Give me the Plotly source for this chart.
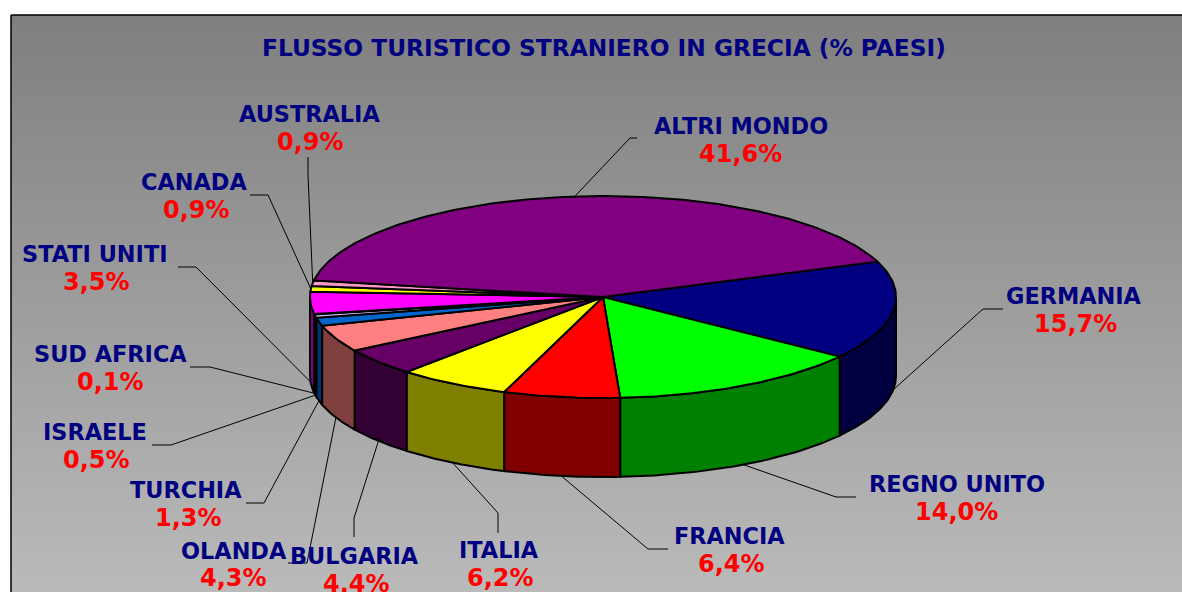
import numpy as np
import plotly.graph_objects as go

TITLE = "FLUSSO TURISTICO STRANIERO IN GRECIA (% PAESI)"
countries = ["GERMANIA", "REGNO UNITO", "FRANCIA", "ITALIA", "BULGARIA", "OLANDA", "TURCHIA",
             "ISRAELE", "SUD AFRICA", "STATI UNITI", "CANADA", "AUSTRALIA", "ALTRI MONDO"]
shares = [15.7, 14.0, 6.4, 6.2, 4.4, 4.3, 1.3, 0.5, 0.1, 3.5, 0.9, 0.9, 41.6]
top_colors = ["#000080", "#00ff00", "#ff0000", "#ffff00", "#660066", "#ff8080", "#0066cc",
              "#ccccff", "#000080", "#ff00ff", "#ffff00", "#ff99cc", "#800080"]
side_colors = ["#000040", "#008000", "#800000", "#808000", "#330033", "#804040", "#003366",
               "#666680", "#000040", "#800080", "#808000", "#804c66", "#400040"]

# Layout (pixels of the 1182x592 page)
CX, CY, RX, RY, DEPTH = 603, 297, 293, 101, 79
START_DEG = 20.5
FONT = "DejaVu Sans"
TITLE_SIZE = 23.3
NAME_SIZE = 22.4
VALUE_SIZE = 24
name_pos = [(1074, 296), (957, 484), (729, 536), (499, 550), (354, 556), (234, 551), (186, 490),
            (95, 432), (110, 354), (95, 254), (194, 182), (309, 114), (741, 126)]
value_pos = [(1075, 324), (956, 512), (731, 564), (500, 578), (356, 584), (233, 578), (188, 518),
             (96, 460), (110, 382), (96, 282), (196, 210), (310, 142), (740, 154)]
leader_start = [(1003, 309), (856, 497), (668, 549), (498, 533), (354, 537), (288, 563), (246, 503),
                (152, 445), (190, 367), (178, 267), (250, 195), (308, 157), (637, 138)]
leader_elbow = [(983, 309), (836, 497), (648, 549), (498, 513), (354, 518), (307, 563), (264, 503),
                (171, 445), (210, 367), (196, 267), (268, 195), (308, 175), (630, 138)]

fracs = np.array(shares) / sum(shares)
edges = np.radians(START_DEG) - 2 * np.pi * np.concatenate([[0], np.cumsum(fracs)])


def px_top(t):
    return CX + RX * np.cos(t), CY - RY * np.sin(t)


fig = go.Figure()

# Background panel with vertical gradient, black left and top edges
fig.add_trace(go.Scatter(
    x=[11, 1200, 1200, 11, 11], y=[15, 15, 610, 610, 15], mode="lines", fill="toself",
    line=dict(color="black", width=1.5),
    fillgradient=dict(type="vertical", colorscale=[[0, "#bcbcbc"], [1, "#7f7f7f"]]),
    hoverinfo="skip", showlegend=False))

# Outer walls: only the front half of the rim is visible
for i in range(len(shares)):
    t0, t1 = edges[i], edges[i + 1]  # t decreases (clockwise)
    for shift in (0.0, 2 * np.pi):
        a = max(t1 + shift, -np.pi)
        b = min(t0 + shift, 0.0)
        if a < b:
            ts = np.linspace(b, a, 60)
            xs, ys = px_top(ts)
            fig.add_trace(go.Scatter(
                x=np.concatenate([xs, xs[::-1], xs[:1]]),
                y=np.concatenate([ys, ys[::-1] + DEPTH, ys[:1]]),
                mode="lines", fill="toself", fillcolor=side_colors[i],
                line=dict(color="black", width=2), hoverinfo="skip", showlegend=False))

# Top faces
for i in range(len(shares)):
    ts = np.linspace(edges[i], edges[i + 1], max(4, int(fracs[i] * 400)))
    xs, ys = px_top(ts)
    fig.add_trace(go.Scatter(
        x=np.concatenate([[CX], xs, [CX]]), y=np.concatenate([[CY], ys, [CY]]),
        mode="lines", fill="toself", fillcolor=top_colors[i],
        line=dict(color="black", width=2), hoverinfo="skip", showlegend=False))

# Leader lines and labels
for i, name in enumerate(countries):
    mid = (edges[i] + edges[i + 1]) / 2
    ex, ey = px_top(mid)
    if np.sin(mid) < 0:
        ey += DEPTH
    fig.add_trace(go.Scatter(
        x=[leader_start[i][0], leader_elbow[i][0], ex], y=[leader_start[i][1], leader_elbow[i][1], ey],
        mode="lines", line=dict(color="#000000", width=1), hoverinfo="skip", showlegend=False))
    fig.add_annotation(x=name_pos[i][0], y=name_pos[i][1], text=f"<b>{name}</b>", showarrow=False,
                       font=dict(family=FONT, size=NAME_SIZE, color="#000080"))
    fig.add_annotation(x=value_pos[i][0], y=value_pos[i][1],
                       text=f"<b>{shares[i]:.1f}%</b>".replace(".", ","), showarrow=False,
                       font=dict(family=FONT, size=VALUE_SIZE, color="#ff0000"))

fig.add_annotation(x=604, y=47, text=f"<b>{TITLE}</b>", showarrow=False,
                   font=dict(family=FONT, size=TITLE_SIZE, color="#000080"))

fig.update_layout(
    width=1182, height=592, margin=dict(l=0, r=0, t=0, b=0),
    paper_bgcolor="white", plot_bgcolor="white", showlegend=False,
    xaxis=dict(range=[0, 1182], visible=False, fixedrange=True),
    yaxis=dict(range=[592, 0], visible=False, fixedrange=True))

fig.write_html("out.html", config=dict(displayModeBar=False),
               post_script="document.body.style.margin='0';document.documentElement.style.overflow='hidden';")
